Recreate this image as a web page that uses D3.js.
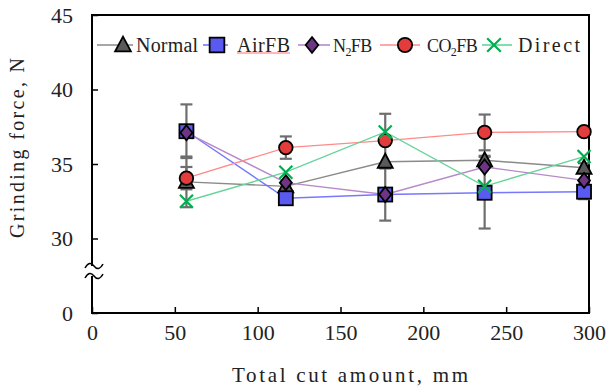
<!DOCTYPE html>
<html><head><meta charset="utf-8">
<script src="https://cdn.jsdelivr.net/npm/d3@7"></script>
<style>body{margin:0;background:#fff}</style>
</head><body><svg id="c" width="607" height="387"></svg>
<script>
const xValues = [57, 117, 177, 237, 297];
const normal = [33.8, 33.5, 35.15, 35.25, 34.75];
const airFB  = [37.2, 32.7, 32.95, 33.07, 33.14];
const n2FB   = [37.1, 33.75, 32.95, 34.8, 33.9];
const co2FB  = [34.05, 36.1, 36.57, 37.12, 37.17];
const direct = [32.5, 34.45, 37.15, 33.5, 35.5];
const normalErr = [1.7, 0, 0, 0.3, 0.3];
const airErr    = [1.8, 0, 1.75, 2.4, 0.5];
const n2Err     = [0, 0, 0, 0, 0];
const co2Err    = [0.75, 0.75, 1.8, 1.2, 0];
const directErr = [0, 0, 0, 0, 0];
const xTicks = [0, 50, 100, 150, 200, 250, 300];
const yTicks = [25, 30, 35, 40, 45];
const yTickLabels = ["0", "30", "35", "40", "45"];

const series = [
  {name:"Normal", label:["Normal"], v:normal, e:normalErr, line:"#8a8a8a", marker:"tri", fill:"#5a5a5a"},
  {name:"AirFB", label:["AirFB"], v:airFB, e:airErr, line:"#7777ff", marker:"sq", fill:"#5a5af0"},
  {name:"N2FB", label:["N","2","FB"], v:n2FB, e:n2Err, line:"#b88ac8", marker:"dia", fill:"#6e3584"},
  {name:"CO2FB", label:["CO","2","FB"], v:co2FB, e:co2Err, line:"#ff8a8a", marker:"circ", fill:"#e23c3c"},
  {name:"Direct", label:["Direct"], v:direct, e:directErr, line:"#66d49a", marker:"x", fill:"#00b050"}
];

const svg = d3.select("#c");
const L=92, R=589, T=15, B=313;
const x = d3.scaleLinear().domain([0,300]).range([L,R]);
const y = d3.scaleLinear().domain([25,45]).range([B,T]);
const serif = '"Liberation Serif", "Times New Roman", serif';

// axes (inward ticks)
const xa = svg.append("g").attr("transform",`translate(0,${B})`)
  .call(d3.axisBottom(x).tickValues(xTicks).tickSizeInner(-6).tickSizeOuter(0).tickPadding(11));
xa.select(".domain").remove();
xa.selectAll("line").attr("stroke","#000").attr("stroke-width",1.5);
xa.selectAll("text").style("font-family",serif).style("font-size","22px").attr("fill","#222");

const ya = svg.append("g").attr("transform",`translate(${L},0)`)
  .call(d3.axisLeft(y).tickValues(yTicks).tickFormat((d,i)=>yTickLabels[i]).tickSizeInner(-6).tickSizeOuter(0).tickPadding(19));
ya.select(".domain").remove();
ya.selectAll("line").attr("stroke","#000").attr("stroke-width",1.5);
ya.selectAll("text").style("font-family",serif).style("font-size","22px").attr("fill","#222");

// frame
svg.append("rect").attr("x",L).attr("y",T).attr("width",R-L).attr("height",B-T)
  .attr("fill","none").attr("stroke","#000").attr("stroke-width",2);

// axis break
const by = 271;
svg.append("rect").attr("x",L-2).attr("y",by-5).attr("width",4).attr("height",10).attr("fill","#fff");
[by-5, by+5].forEach(yy=>{
  svg.append("path").attr("d",`M85,${yy+2} Q89.5,${yy-6} 94,${yy} Q98.5,${yy+6} 103,${yy-2}`)
    .attr("fill","none").attr("stroke","#000").attr("stroke-width",1.5);
});

// titles
svg.append("text").attr("x",232).attr("y",382)
  .attr("textLength",236).attr("lengthAdjust","spacing")
  .style("font-family",serif).style("font-size","21px").attr("fill","#222").text("Total cut amount, mm");
svg.append("text").attr("transform","translate(24,238) rotate(-90)")
  .attr("textLength",180).attr("lengthAdjust","spacing")
  .style("font-family",serif).style("font-size","20px").attr("fill","#222").text("Grinding force, N");

function drawMarker(g, type, cx, cy, fill, s){
  s = s || 1;
  if(type==="tri"){
    g.append("path").attr("d",`M${cx},${cy-8*s} L${cx+7.5*s},${cy+6*s} L${cx-7.5*s},${cy+6*s} Z`)
      .attr("fill",fill).attr("stroke","#000").attr("stroke-width",1.8);
  } else if(type==="sq"){
    g.append("rect").attr("x",cx-7*s).attr("y",cy-7*s).attr("width",14*s).attr("height",14*s)
      .attr("fill",fill).attr("stroke","#000").attr("stroke-width",1.8);
  } else if(type==="dia"){
    g.append("path").attr("d",`M${cx},${cy-7.5*s} L${cx+6*s},${cy} L${cx},${cy+7.5*s} L${cx-6*s},${cy} Z`)
      .attr("fill",fill).attr("stroke","#000").attr("stroke-width",1.8);
  } else if(type==="circ"){
    g.append("circle").attr("cx",cx).attr("cy",cy).attr("r",6.8*s)
      .attr("fill",fill).attr("stroke","#000").attr("stroke-width",1.8);
  } else if(type==="x"){
    g.append("path").attr("d",`M${cx-6.5*s},${cy-6.5*s} L${cx+6.5*s},${cy+6.5*s} M${cx+6.5*s},${cy-6.5*s} L${cx-6.5*s},${cy+6.5*s}`)
      .attr("fill","none").attr("stroke",fill).attr("stroke-width",2.2);
  }
}

const line = d3.line().x((d,i)=>x(xValues[i])).y(d=>y(d));
const plot = svg.append("g");
// error bars
series.forEach(s=>{
  s.v.forEach((v,i)=>{
    const e = s.e[i]; if(!e) return;
    const cx = x(xValues[i]);
    const g = plot.append("g").attr("stroke","#6e6e6e").attr("stroke-width",2.2);
    g.append("line").attr("x1",cx).attr("x2",cx).attr("y1",y(v+e)).attr("y2",y(v-e));
    g.append("line").attr("x1",cx-6).attr("x2",cx+6).attr("y1",y(v+e)).attr("y2",y(v+e));
    g.append("line").attr("x1",cx-6).attr("x2",cx+6).attr("y1",y(v-e)).attr("y2",y(v-e));
  });
});
series.forEach(s=>{
  plot.append("path").datum(s.v).attr("d",line).attr("fill","none")
    .attr("stroke",s.line).attr("stroke-width",1.4);
});
series.forEach(s=>{
  s.v.forEach((v,i)=>drawMarker(plot, s.marker, x(xValues[i]), y(v), s.fill));
});

// legend
const legX = [[97,133,123,136,62],[203,228,217,237,53],[298,330,312,333,0],[380,420,405,427,0],[482,512,494,518,62]];
const legY = 45;
const lg = svg.append("g");
series.forEach((s,i)=>{
  const [x1,x2,mx,tx,tw] = legX[i];
  lg.append("line").attr("x1",x1).attr("x2",x2).attr("y1",legY).attr("y2",legY)
    .attr("stroke",s.line).attr("stroke-width",1.6);
  drawMarker(lg, s.marker, mx, legY, s.fill, 1.05);
  const t = lg.append("text").attr("x",tx).attr("y",legY+7)
    .style("font-family",serif).style("font-size","20px").attr("fill","#222");
  if(s.label.length===1){
    t.attr("textLength",tw).attr("lengthAdjust","spacing").text(s.label[0]);
  } else {
    t.style("font-size","18px").style("letter-spacing","-0.6px");
    t.append("tspan").text(s.label[0]);
    t.append("tspan").style("font-size","12px").attr("dy",4).text(s.label[1]);
    t.append("tspan").attr("dy",-4).text(s.label[2]);
  }
});
// spell-check underline under AirFB
lg.append("line").attr("x1",237).attr("x2",290).attr("y1",53).attr("y2",53)
  .attr("stroke","#ff7070").attr("stroke-width",1);
</script></body></html>
